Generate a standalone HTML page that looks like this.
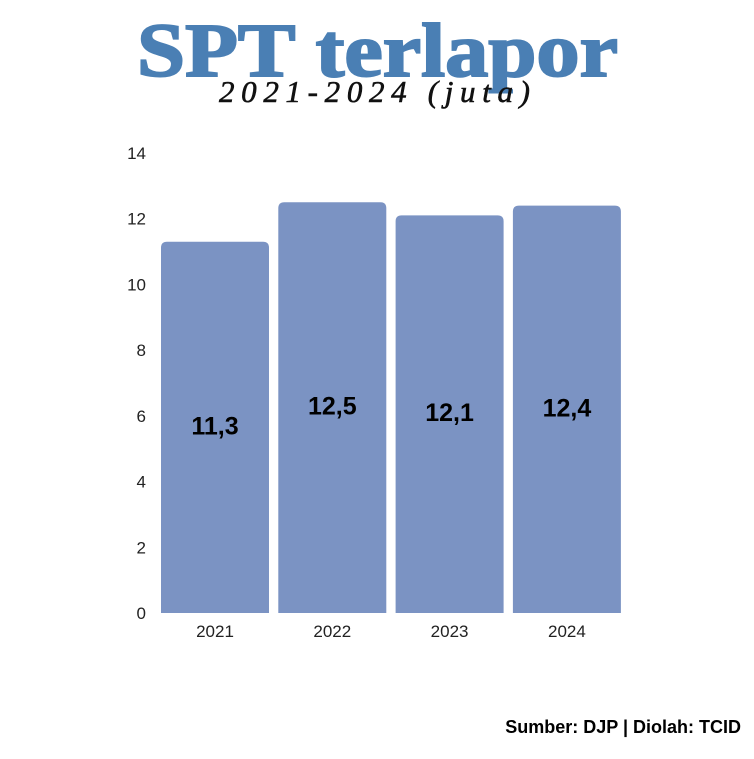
<!DOCTYPE html>
<html><head><meta charset="utf-8"><style>
body{margin:0;background:#fff;width:754px;height:754px;overflow:hidden;font-family:"Liberation Sans",sans-serif;}
</style></head><body>
<svg width="754" height="754" viewBox="0 0 754 754">
<text x="137" y="76" textLength="481" lengthAdjust="spacingAndGlyphs" font-family="Liberation Serif,serif" font-weight="bold" font-size="76" fill="#4a7fb4" stroke="#4a7fb4" stroke-width="2">SPT terlapor</text>
<text x="219" y="102" textLength="311" lengthAdjust="spacing" font-family="Liberation Serif,serif" font-style="italic" font-size="31" fill="#111" stroke="#111" stroke-width="0.6">2021-2024 (juta)</text>
<g id="yticks"></g><g id="bars"></g>
<text x="741" y="733" text-anchor="end" font-weight="bold" font-size="18" fill="#000">Sumber: DJP | Diolah: TCID</text>
</svg>
<script>
const categories=["2021","2022","2023","2024"];
const values=[11.3,12.5,12.1,12.4];
const valueLabels=["11,3","12,5","12,1","12,4"];
const yTicks=[0,2,4,6,8,10,12,14];
const ns="http://www.w3.org/2000/svg";
const y0=613,yTop=153,yMax=14;
const y=v=>y0-(y0-yTop)*v/yMax;
const x=i=>161+i*117.3;
const bw=108;
function mk(t,a,p){const e=document.createElementNS(ns,t);for(const k in a)e.setAttribute(k,a[k]);p.appendChild(e);return e;}
const yt=document.getElementById('yticks');
yTicks.forEach(t=>{const e=mk('text',{x:146,y:y(t)+6,'text-anchor':'end','font-size':17,fill:'#222'},yt);e.textContent=t;

});
const bg=document.getElementById('bars');
values.forEach((v,i)=>{const top=y(v),r=6;
const p=mk('path',{d:`M${x(i)},${y0}V${top+r}Q${x(i)},${top} ${x(i)+r},${top}H${x(i)+bw-r}Q${x(i)+bw},${top} ${x(i)+bw},${top+r}V${y0}Z`,fill:'#7b93c3'},bg);


const l=mk('text',{x:x(i)+bw/2,y:(top+y0)/2+7,'text-anchor':'middle','font-size':25,'font-weight':'bold',fill:'#000'},bg);l.textContent=valueLabels[i];


const c=mk('text',{x:x(i)+bw/2,y:637,'text-anchor':'middle','font-size':17,fill:'#222'},bg);c.textContent=categories[i];

});
</script>
</body></html>
